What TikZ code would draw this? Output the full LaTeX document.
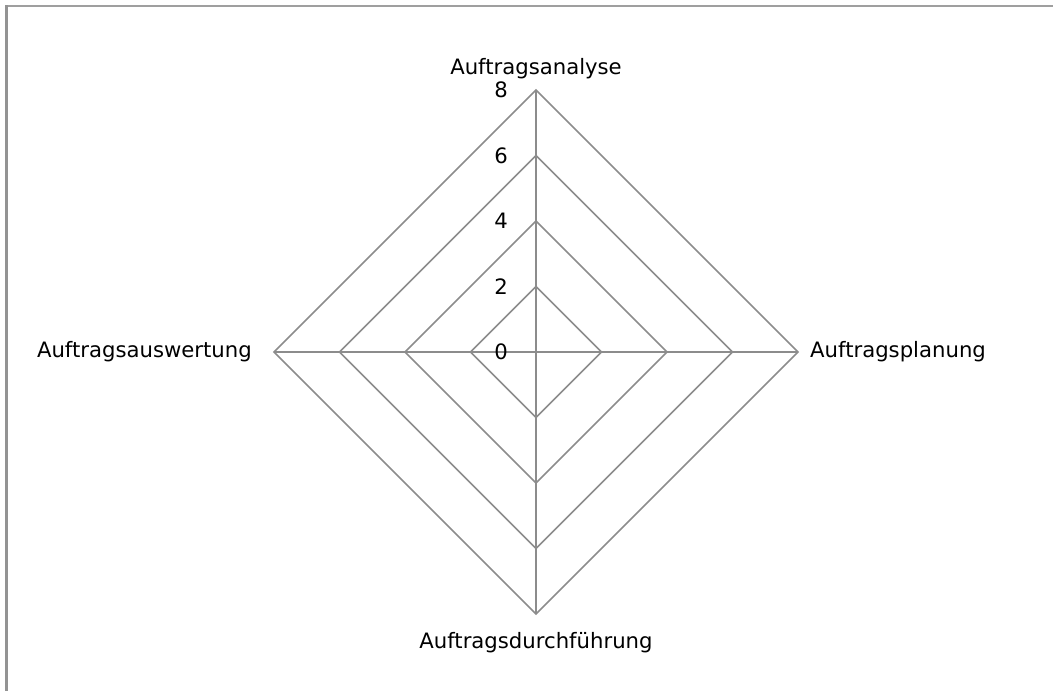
\documentclass[tikz,border=0pt]{standalone}
\usepackage{fontspec}
\setmainfont{DejaVu Sans}
\usetikzlibrary{positioning}

\begin{document}
\begin{tikzpicture}[x=1pt,y=-1pt,
  grid/.style={draw=gray!90, line width=1.6pt},
  axlabel/.style={font=\fontsize{21.2}{25}\selectfont, inner sep=0pt},
  tick/.style={font=\fontsize{21.2}{25}\selectfont, anchor=east, inner sep=0pt}]
\useasboundingbox (0,0) rectangle (1053,691);
% frame
\draw[draw=gray!75, line width=1.5pt] (1053,6) -- (6.5,6);
\draw[draw=gray!85, line width=2.5pt] (6.5,5.3) -- (6.5,691);
% axes
\coordinate (c) at (536,352);
\coordinate (n) at (536,90);
\coordinate (e) at (798,352);
\coordinate (s) at (536,614);
\coordinate (w) at (274,352);
\foreach \r in {2,4,6,8} {
  \pgfmathsetmacro\d{32.75*\r}
  \draw[grid,shift={(c)}] (0,-\d) -- (\d,0) -- (0,\d) -- (-\d,0) -- cycle;
}
\draw[grid] (n) -- (s);
\draw[grid] (w) -- (e);
% scale
\foreach \r in {0,2,...,8}
  \node[tick] (t\r) at (508,{352-32.75*\r}) {\r};
% labels
\node[axlabel, above=11pt of n] (analyse) {Auftragsanalyse};
\node[axlabel, right=12pt of e] (planung) {Auftragsplanung};
\node[axlabel, below=18pt of s] (durchf) {Auftragsdurchführung};
\node[axlabel, left=22pt of w] (auswert) {Auftragsauswertung};
\end{tikzpicture}
\end{document}
